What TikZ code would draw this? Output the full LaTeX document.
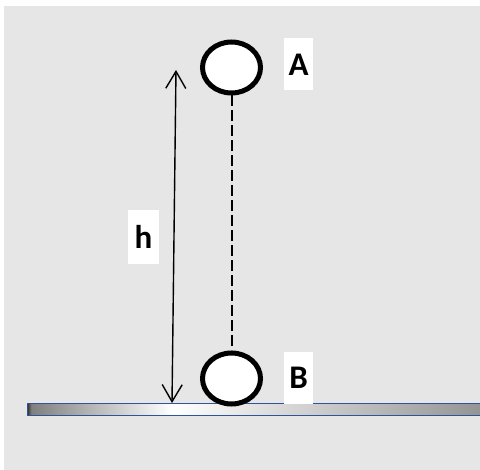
\documentclass[tikz,border=0pt]{standalone}
\usepackage{fontspec}
\setmainfont{Carlito}
\usetikzlibrary{shapes.geometric,arrows.meta}
\definecolor{bgpaper}{HTML}{E6E6E6}
\definecolor{barblue}{RGB}{47,85,151}
\pgfdeclarehorizontalshading{groundshade}{100bp}{color(0bp)=(black!80); color(25bp)=(black!80); color(25.4bp)=(black!50); color(41bp)=(white); color(75bp)=(black!42); color(100bp)=(black!42)}
\tikzset{
  ball/.style={ellipse, draw=black, line width=5pt, fill=white, minimum width=58pt, minimum height=51pt, inner sep=0pt},
  lbl/.style={fill=white, inner sep=0pt, minimum width=29pt, minimum height=52pt, font=\fontsize{33}{33}\selectfont\bfseries, text=black},
  dimarrow/.style={line width=1.4pt, {Straight Barb[length=17pt,width=20pt]}-{Straight Barb[length=17pt,width=20pt]}},
}
\begin{document}
\begin{tikzpicture}[x=1pt,y=-1pt]
\useasboundingbox (0,0) rectangle (480,470);
\fill[white] (0,0) rectangle (480,470);
\fill[bgpaper] (4,6) rectangle (480,470);
% ground bar
\node[draw=barblue, line width=1.2pt, shading=groundshade, inner sep=0pt, minimum width=453pt, minimum height=11.5pt, anchor=west] (ground) at (27,409.5) {};
% balls
\node[ball] (A) at (231.5,67.5) {};
\node[ball] (B) at (231.5,378.5) {};
\draw[line width=2pt, dash pattern=on 11pt off 4pt] (A.south) -- (B.north);
% labels
\node[lbl] (la) at (298.5,64.5) {A};
\node[lbl] (lb) at (298.5,378) {B};
% dimension arrow
\coordinate (htop) at (176,70);
\coordinate (hbot) at (172,403);
\draw[dimarrow] (htop) -- (hbot);
\node[lbl, minimum width=31pt, minimum height=54pt] (lh) at (143.5,237) {h};
\end{tikzpicture}
\end{document}
